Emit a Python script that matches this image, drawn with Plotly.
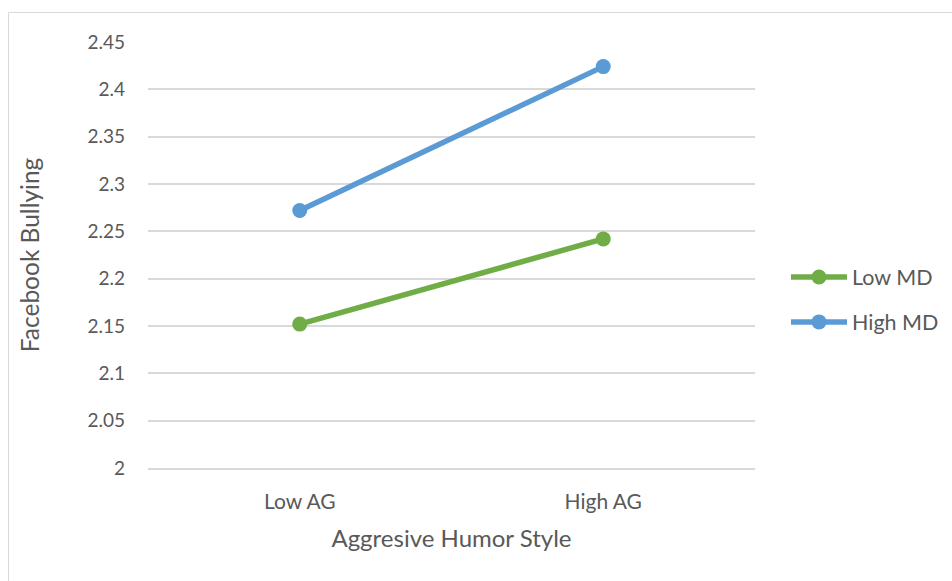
import plotly.graph_objects as go

categories = ["Low AG", "High AG"]
low_md = [2.152, 2.242]
high_md = [2.272, 2.424]
y_ticks = [2, 2.05, 2.1, 2.15, 2.2, 2.25, 2.3, 2.35, 2.4, 2.45]
y_tick_text = ["2", "2.05", "2.1", "2.15", "2.2", "2.25", "2.3", "2.35", "2.4", "2.45"]

FONT = "Lato, Open Sans, sans-serif"
TXT = "#595959"
GREEN = "#70AD47"
BLUE = "#5B9BD5"
GRID = "#D9D9D9"

fig = go.Figure()
fig.add_trace(go.Scatter(x=[0, 1], y=low_md, name="Low MD", mode="lines+markers",
                         line=dict(color=GREEN, width=5.5), marker=dict(size=15, color=GREEN),
                         legendgroup="a"))
fig.add_trace(go.Scatter(x=[0, 1], y=high_md, name="High MD", mode="lines+markers",
                         line=dict(color=BLUE, width=5.5), marker=dict(size=15, color=BLUE),
                         legendgroup="b"))

W, H = 952, 581
L, R, T, B = 148, 755, 42, 468

def px_x(px):
    return (px - L) / (R - L)

def px_y(py):
    return (B - py) / (B - T)

fig.add_shape(type="rect", xref="paper", yref="paper",
              x0=px_x(8.5), x1=px_x(980), y0=px_y(12.5), y1=px_y(600),
              line=dict(color=GRID, width=1), fillcolor="rgba(0,0,0,0)", layer="below")

fig.update_layout(
    width=W, height=H,
    margin=dict(l=L, r=W - R, t=T, b=H - B, pad=0, autoexpand=False),
    paper_bgcolor="white", plot_bgcolor="white",
    font=dict(family=FONT, color=TXT, size=17),
    showlegend=True,
    legend=dict(xref="container", yref="container",
                x=786 / W, y=1 - 299.5 / H, xanchor="left", yanchor="middle",
                traceorder="grouped", tracegroupgap=14, itemwidth=56,
                font=dict(size=21.5, color=TXT), bgcolor="rgba(0,0,0,0)"),
    xaxis=dict(range=[-0.5, 1.5], tickvals=[0, 1], ticktext=categories,
               showgrid=False, zeroline=False, showline=True, linecolor=GRID, linewidth=1.5,
               ticks="", ticklabelstandoff=14,
               tickfont=dict(size=21, color=TXT),
               title=dict(text="Aggresive Humor Style", font=dict(size=24, color=TXT), standoff=18)),
    yaxis=dict(range=[2, 2.45], tickvals=y_ticks, ticktext=y_tick_text,
               showgrid=True, gridcolor=GRID, gridwidth=1.5,
               zeroline=False, showline=False, ticks="", ticklabelstandoff=22,
               tickfont=dict(size=19, color=TXT),
               title=dict(text="Facebook Bullying", font=dict(size=24.5, color=TXT), standoff=40)),
)

fig.write_html("out.html", config={"displayModeBar": False},
               post_script="document.body.style.margin='0';")
